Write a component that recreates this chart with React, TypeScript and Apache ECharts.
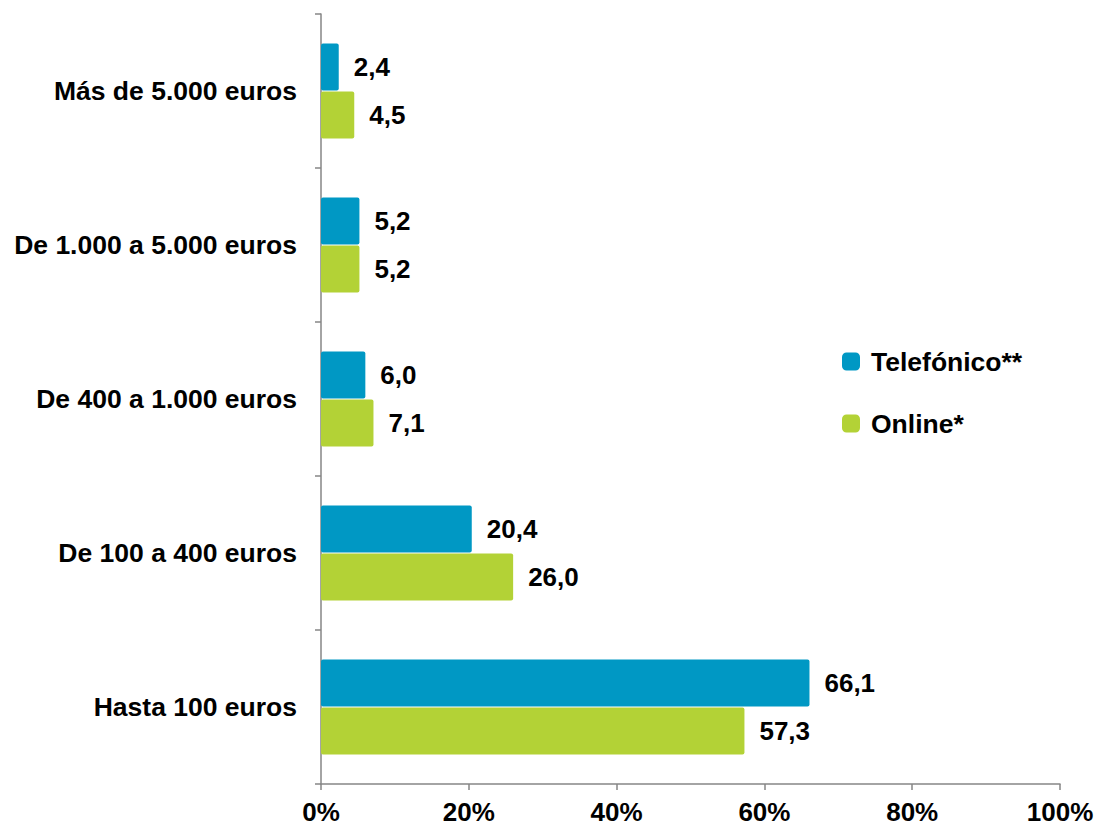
import React, { useEffect, useRef } from "react";
import * as echarts from "echarts";

const categories = [
  "Hasta 100 euros",
  "De 100 a 400 euros",
  "De 400 a 1.000 euros",
  "De 1.000 a 5.000 euros",
  "Más de 5.000 euros",
];
const telefonico = [66.1, 20.4, 6.0, 5.2, 2.4];
const online = [57.3, 26.0, 7.1, 5.2, 4.5];
const seriesNames = ["Telefónico**", "Online*"];
const colors = ["#0098C4", "#B3D236"];

const FONT = "'Liberation Sans', Arial, sans-serif";

export default function App() {
  const ref = useRef<HTMLDivElement>(null);
  useEffect(() => {
    if (!ref.current) return;
    const chart = echarts.init(ref.current, null, { renderer: "svg" });
    const label = {
      show: true,
      position: "right",
      distance: 15,
      color: "#000",
      fontSize: 26,
      fontWeight: "bold",
      fontFamily: FONT,
      formatter: (p: any) => Number(p.value).toFixed(1).replace(".", ","),
    };
    chart.setOption({
      animation: false,
      textStyle: { fontFamily: FONT },
      grid: { left: 321, right: 37, top: 14, bottom: 43 },
      legend: {
        data: seriesNames,
        orient: "vertical",
        left: 837,
        top: 343,
        itemWidth: 18,
        itemHeight: 18,
        itemGap: 35,
        icon: "roundRect",
        textStyle: {
          fontSize: 26.5,
          fontWeight: "bold",
          color: "#000",
          fontFamily: FONT,
          padding: [0, 0, 0, 6],
        },
      },
      xAxis: {
        type: "value",
        min: 0,
        max: 100,
        interval: 20,
        axisLine: { show: true, lineStyle: { color: "#868686", width: 1.5 } },
        axisTick: { show: true, length: 6, lineStyle: { color: "#868686", width: 1.5 } },
        splitLine: { show: false },
        axisLabel: {
          formatter: "{value}%",
          fontSize: 26,
          fontWeight: "bold",
          color: "#000",
          margin: 15,
          fontFamily: FONT,
        },
      },
      yAxis: {
        type: "category",
        data: categories,
        axisLine: { show: true, lineStyle: { color: "#868686", width: 1.5 } },
        axisTick: { show: true, length: 6, lineStyle: { color: "#868686", width: 1.5 } },
        axisLabel: {
          fontSize: 26.5,
          fontWeight: "bold",
          color: "#000",
          margin: 24,
          fontFamily: FONT,
        },
      },
      series: [
        {
          name: seriesNames[0],
          type: "bar",
          data: telefonico,
          barWidth: 47,
          barGap: "2%",
          itemStyle: { color: colors[0], borderRadius: 2 },
          label,
        },
        {
          name: seriesNames[1],
          type: "bar",
          data: online,
          barWidth: 47,
          barGap: "2%",
          itemStyle: { color: colors[1], borderRadius: 2 },
          label,
        },
      ],
    });
    return () => chart.dispose();
  }, []);
  return (
    <div
      ref={ref}
      style={{ position: "fixed", left: 0, top: 0, width: 1097, height: 827, background: "#fff" }}
    />
  );
}
